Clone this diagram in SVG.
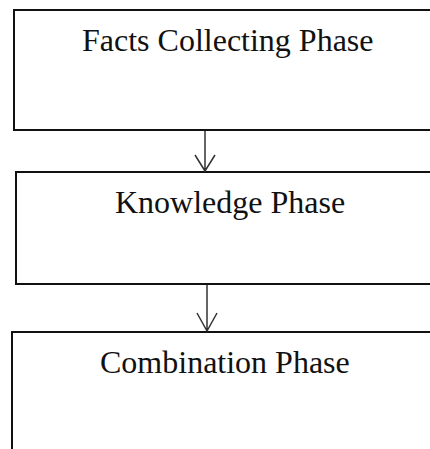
<svg xmlns="http://www.w3.org/2000/svg" width="430" height="449" viewBox="0 0 430 449">
<style>
.box{fill:#fff;stroke:#111;stroke-width:2}
.lbl{font-family:"Liberation Serif","Times New Roman",serif;font-size:32px;fill:#111}
.conn{fill:none;stroke:#333;stroke-width:1.5}
</style>
<rect width="430" height="449" fill="#fff"/>
<g id="facts"><rect class="box" x="14" y="10" width="430" height="120"/><text class="lbl" x="82" y="51">Facts Collecting Phase</text></g>
<g id="knowledge"><rect class="box" x="16" y="172" width="430" height="112"/><text class="lbl" x="115" y="213">Knowledge Phase</text></g>
<g id="combination"><rect class="box" x="12" y="332" width="430" height="130"/><text class="lbl" x="100" y="373">Combination Phase</text></g>
<g id="connectors">
<path class="conn" d="M205,131 V171 M195,155 L205,171 L215,155"/>
<path class="conn" d="M207,285 V331 M197,313 L207,331 L217,313"/>
</g>
</svg>
